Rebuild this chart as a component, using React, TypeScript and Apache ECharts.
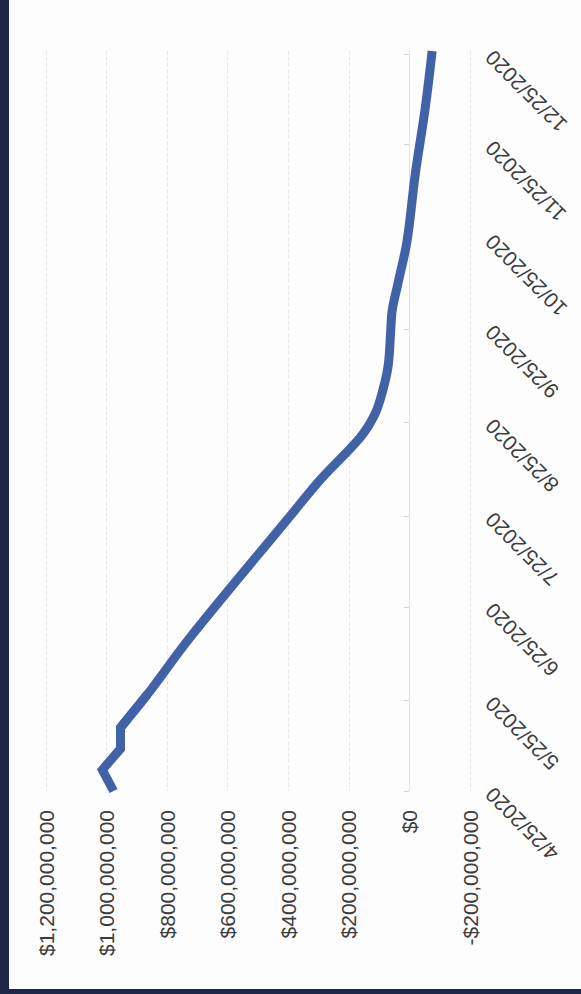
import React, { useEffect, useRef } from 'react';
import * as echarts from 'echarts';

// Daily date categories (tick labels shown on the 25th of each month)
const START_UTC = Date.UTC(2020, 3, 25);
const DAY_COUNT = 246;
const dateCategories: string[] = [];
for (let i = 0; i < DAY_COUNT; i++) {
  const d = new Date(START_UTC + i * 86400000);
  dateCategories.push(`${d.getUTCMonth() + 1}/${d.getUTCDate()}/${d.getUTCFullYear()}`);
}

// Series points: early part (sharp corners)
const earlyDates = ['4/25/2020', '5/2/2020', '5/9/2020', '5/16/2020', '5/27/2020'];
const earlyValues = [977000000, 1014000000, 954000000, 954000000, 865000000];

// Later part (smooth curve)
const laterDates = [
  '5/16/2020', '5/27/2020', '6/15/2020', '7/25/2020', '8/6/2020', '8/20/2020',
  '8/28/2020', '9/5/2020', '9/13/2020', '9/24/2020', '10/1/2020', '10/10/2020',
  '10/24/2020', '11/15/2020', '12/7/2020', '12/26/2020',
];
const laterValues = [
  954000000, 865000000, 723000000, 394000000, 295000000, 163000000,
  113000000, 87000000, 70000000, 62000000, 57000000, 38000000,
  8000000, -19000000, -52000000, -75000000,
];

const VALUE_MIN = -200000000;
const VALUE_MAX = 1200000000;
const VALUE_STEP = 200000000;

const TEXT_COLOR = '#3c3c3c';
const FONT = '"Liberation Sans", Arial, sans-serif';
const LINE_COLOR = '#4262a8';

const isLabelDay = (_idx: number, value: string) => value.split('/')[1] === '25';

const fmtMoney = (v: number) => {
  const s = Math.abs(v).toLocaleString('en-US');
  return v < 0 ? `-$${s}` : `$${s}`;
};

export default function App() {
  const ref = useRef<HTMLDivElement>(null);

  useEffect(() => {
    if (!ref.current) return;
    const chart = echarts.init(ref.current, null, { renderer: 'svg' });
    const lineStyle = { color: LINE_COLOR, width: 9, cap: 'butt', join: 'miter' };
    chart.setOption({
      animation: false,
      backgroundColor: '#fdfdfd',
      grid: { left: 37, right: 111, top: 51, bottom: 198 },
      xAxis: {
        type: 'value',
        inverse: true,
        position: 'bottom',
        min: VALUE_MIN,
        max: VALUE_MAX,
        interval: VALUE_STEP,
        axisLine: { show: false },
        axisTick: { show: false },
        splitLine: { show: true, lineStyle: { color: '#e8e8e8', type: 'dashed', width: 1 } },
        axisLabel: {
          rotate: 90,
          align: 'right',
          verticalAlign: 'middle',
          margin: 19,
          fontSize: 21,
          color: TEXT_COLOR,
          fontFamily: FONT,
          formatter: (v: number) => fmtMoney(v),
        },
      },
      yAxis: [
        {
          type: 'category',
          data: dateCategories,
          boundaryGap: false,
          position: 'right',
          axisLine: { show: false, onZero: false },
          axisTick: { show: false },
          splitLine: { show: false },
          axisLabel: {
            interval: isLabelDay,
            rotate: 135,
            align: 'right',
            verticalAlign: 'middle',
            margin: 19,
            fontSize: 21,
            color: TEXT_COLOR,
            fontFamily: FONT,
          },
        },
        {
          type: 'category',
          data: dateCategories,
          boundaryGap: false,
          position: 'left',
          offset: -363,
          axisLine: { show: true, onZero: false, lineStyle: { color: '#e2e2e2', width: 1 } },
          axisTick: { show: true, interval: isLabelDay, length: 5, lineStyle: { color: '#d6d6d6' } },
          axisLabel: { show: false },
          splitLine: { show: false },
        },
      ],
      series: [
        {
          type: 'line',
          xAxisIndex: 0,
          yAxisIndex: 0,
          data: earlyDates.map((d, i) => [earlyValues[i], d]),
          symbol: 'none',
          showSymbol: false,
          lineStyle,
          itemStyle: { color: LINE_COLOR },
        },
        {
          type: 'line',
          xAxisIndex: 0,
          yAxisIndex: 0,
          data: laterDates.map((d, i) => [laterValues[i], d]),
          symbol: 'none',
          showSymbol: false,
          smooth: 0.35,
          lineStyle,
          itemStyle: { color: LINE_COLOR },
        },
      ],
    });
    return () => chart.dispose();
  }, []);

  return (
    <div style={{ position: 'fixed', left: 0, top: 0, width: 581, height: 994, background: '#1c2646' }}>
      <div ref={ref} style={{ position: 'absolute', left: 9, top: 0, width: 572, height: 989 }} />
    </div>
  );
}
